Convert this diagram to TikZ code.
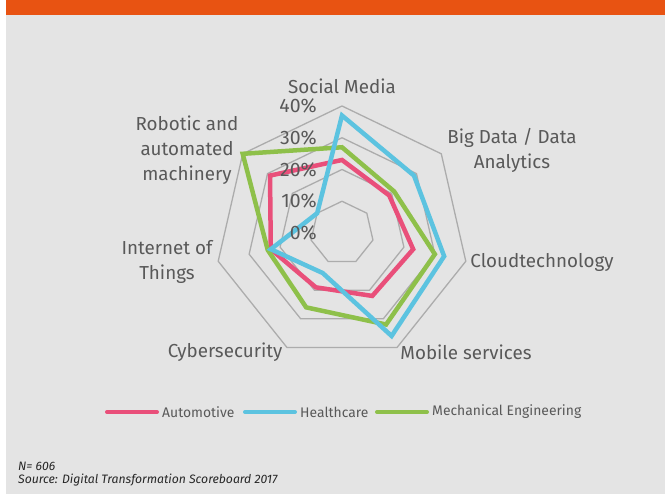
\documentclass[tikz,border=0pt]{standalone}
\usepackage{fontspec}
\setmainfont{Fira Sans}
\definecolor{barorange}{RGB}{232,83,18}
\definecolor{bggray}{RGB}{228,228,228}
\definecolor{gridgray}{RGB}{172,172,172}
\definecolor{textgray}{RGB}{89,89,89}
\definecolor{autopink}{RGB}{233,79,122}
\definecolor{healthblue}{RGB}{92,195,224}
\definecolor{mechgreen}{RGB}{142,192,74}
\tikzset{
  cat/.style={text=textgray,font=\fontsize{18.8}{25}\selectfont,align=center,inner sep=0pt},
  pct/.style={text=textgray,font=\fontsize{19.5}{19}\selectfont,anchor=east,inner sep=0pt},
  legtext/.style={text=textgray,font=\fontsize{13.9}{15}\selectfont,anchor=west,inner sep=0pt},
  legline/.style={line width=4pt,line cap=round},
  note/.style={text=black!85,font=\fontsize{12.2}{12}\selectfont\itshape,anchor=west,inner sep=0pt},
  series/.style={line width=4.5pt,line join=miter}
}
\begin{document}
\begin{tikzpicture}[x=1pt,y=1pt]
  \useasboundingbox (0,0) rectangle (665,494);
  \fill[white] (0,0) rectangle (665,494);
  \fill[bggray] (6,0) rectangle (665,479);
  \fill[barorange] (6,479) rectangle (665,494);
  \begin{scope}[shift={(342,261)}]
    \foreach \r in {1,...,4}
      \draw[gridgray,line width=1.3pt] (90:\r*31.75)
        \foreach \k in {1,...,6} {-- (90-\k*360/7:\r*31.75)} -- cycle;
    \foreach \name/\col/\vals in {A/autopink/{23,19,23,22,19,23,29},
                                  M/mechgreen/{27,21,30,32,26,24,40},
                                  H/healthblue/{37,29,33,36,14,23,10}} {
      \foreach \v [count=\k from 0] in \vals
        \coordinate (\name\k) at (90-\k*360/7:\v*3.175);
      \draw[series,\col] (\name0) -- (\name1) -- (\name2) -- (\name3)
        -- (\name4) -- (\name5) -- (\name6) -- cycle;
    }
    \node[pct] (p40) at (-25,127) {40\%};
    \node[pct] (p30) at (-25,95.25) {30\%};
    \node[pct] (p20) at (-25,63.5) {20\%};
    \node[pct] (p10) at (-25,31.75) {10\%};
    \node[pct] (p0) at (-25,0) {0\%};
  \end{scope}
  \node[cat] (SM) at (342,408) {Social Media};
  \node[cat] (BD) at (512,344) {Big Data / Data\\Analytics};
  \node[cat] (CT) at (542,232) {Cloudtechnology};
  \node[cat] (MS) at (466,142) {Mobile services};
  \node[cat] (CS) at (225,142) {Cybersecurity};
  \node[cat] (IT) at (167,232.5) {Internet of\\Things};
  \node[cat] (RM) at (187,344) {Robotic and\\automated\\machinery};
  \node[legtext] (LA) at (162,82) {Automotive};
  \node[legtext] (LH) at (300,82) {Healthcare};
  \node[legtext] (LM) at (432,82) {Mechanical Engineering};
  \draw[legline,autopink] (107,82) -- (157,82);
  \draw[legline,healthblue] (245,82) -- (295,82);
  \draw[legline,mechgreen] (377,82) -- (427,82);
  \node[note] (N) at (18,27.5) {N= 606};
  \node[note] (S) at (18,13.5) {Source: Digital Transformation Scoreboard 2017};
\end{tikzpicture}
\end{document}
